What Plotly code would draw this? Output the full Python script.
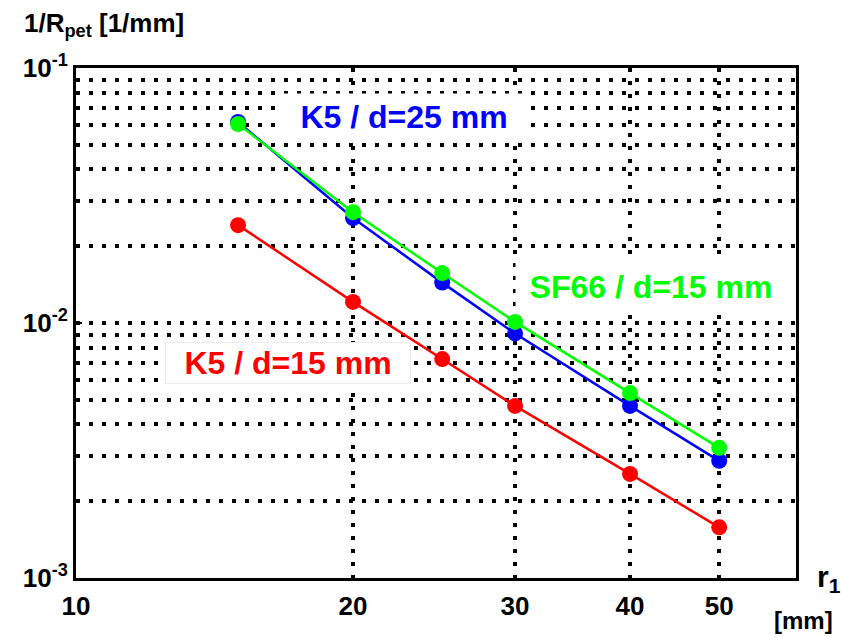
import plotly.graph_objects as go

# Distance r1 in mm
r1_mm = [15, 20, 25, 30, 40, 50]

# 1/R_pet in 1/mm for each glass / thickness
k5_d25 = [0.0614, 0.0258, 0.0144, 0.0091, 0.00473, 0.00288]
sf66_d15 = [0.0603, 0.0272, 0.0157, 0.0101, 0.00531, 0.00324]
k5_d15 = [0.0242, 0.0121, 0.00722, 0.00473, 0.00256, 0.00158]

x_tick_vals = [10, 20, 30, 40, 50]
x_tick_text = ["10", "20", "30", "40", "50"]
y_tick_vals = [0.001, 0.01, 0.1]
y_tick_text = ["10<sup>-3</sup>", "10<sup>-2</sup>", "10<sup>-1</sup>"]
y_minor_vals = [0.002, 0.003, 0.004, 0.005, 0.006, 0.007, 0.008, 0.009,
                0.02, 0.03, 0.04, 0.05, 0.06, 0.07, 0.08, 0.09]

FONT = "Liberation Sans"
DOTS = "3.5px,9.5px"

fig = go.Figure()

series = [
    ("K5 / d=15 mm", k5_d15, "#ff0000"),
    ("K5 / d=25 mm", k5_d25, "#0000ff"),
    ("SF66 / d=15 mm", sf66_d15, "#00ff00"),
]
for name, vals, color in series:
    fig.add_trace(go.Scatter(
        x=r1_mm, y=vals, name=name, mode="lines+markers",
        line=dict(color=color, width=2.5),
        marker=dict(color=color, size=16, symbol="circle"),
    ))

fig.update_layout(
    width=841, height=637,
    margin=dict(l=76, r=45, t=68, b=59),
    paper_bgcolor="white", plot_bgcolor="white",
    showlegend=False,
    font=dict(family=FONT, color="black"),
)

fig.update_xaxes(
    type="log", range=[1, 1.7824],
    tickvals=x_tick_vals, ticktext=x_tick_text,
    tickfont=dict(size=26, family=FONT, weight="bold"),
    ticks="", ticklabelstandoff=3,
    showgrid=True, gridcolor="black", gridwidth=3.5, griddash=DOTS,
    showline=True, linecolor="black", linewidth=3, mirror=True,
    zeroline=False,
)
fig.update_yaxes(
    type="log", range=[-3, -1],
    tickvals=y_tick_vals, ticktext=y_tick_text,
    tickfont=dict(size=26, family=FONT, weight="bold"),
    ticks="inside", ticklen=6, tickwidth=2, tickcolor="black",
    showgrid=True, gridcolor="black", gridwidth=3.5, griddash=DOTS,
    minor=dict(tickvals=y_minor_vals, showgrid=True, gridcolor="black",
               gridwidth=3.5, griddash=DOTS, ticks=""),
    showline=True, linecolor="black", linewidth=3, mirror=True,
    zeroline=False,
)

labels = [
    ("K5 / d=25 mm", "#0000ff", 0.4556, 0.904, 250, 43, None),
    ("SF66 / d=15 mm", "#00ff00", 0.7986, 0.5706, 268, 48, None),
    ("K5 / d=15 mm", "#ff0000", 0.2944, 0.4216, 242, 38, "#ececec"),
]
for text, color, px, py, w, h, border in labels:
    fig.add_annotation(
        text=text, xref="paper", yref="paper", x=px, y=py,
        xanchor="center", yanchor="middle", showarrow=False,
        width=w, height=h, bgcolor="white",
        bordercolor=border if border else "rgba(0,0,0,0)", borderwidth=1,
        font=dict(size=32, color=color, family=FONT, weight="bold"),
    )

# Axis titles
fig.add_annotation(
    text="1/R<sub>pet</sub> [1/mm]", xref="paper", yref="paper",
    x=-0.075, y=1.086, xanchor="left", yanchor="middle", showarrow=False,
    font=dict(size=26, family=FONT, weight="bold", color="black"),
)
fig.add_annotation(
    text="r<sub>1</sub>", xref="paper", yref="paper",
    x=1.027, y=0.0, xanchor="left", yanchor="middle", showarrow=False,
    font=dict(size=30, family=FONT, weight="bold", color="black"),
)
fig.add_annotation(
    text="[mm]", xref="paper", yref="paper",
    x=1.01, y=-0.083, xanchor="center", yanchor="middle", showarrow=False,
    font=dict(size=24, family=FONT, weight="bold", color="black"),
)

fig.write_html("out.html")
